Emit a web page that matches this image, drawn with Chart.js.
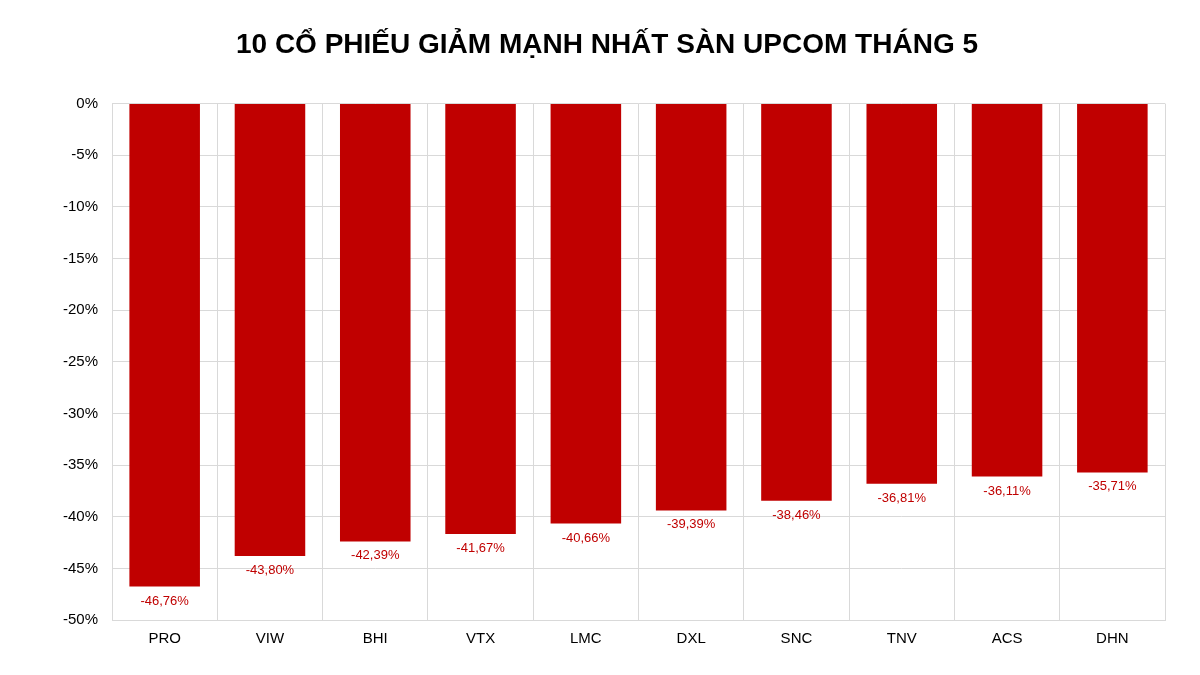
<!DOCTYPE html>
<html><head><meta charset="utf-8">
<script src="https://cdn.jsdelivr.net/npm/chart.js@4"></script>
<style>html,body{margin:0;background:#fff}#w{width:1200px;height:675px}</style>
</head><body><div id="w"><canvas id="c"></canvas></div>
<script>
const categories=["PRO","VIW","BHI","VTX","LMC","DXL","SNC","TNV","ACS","DHN"];
const values=[-46.76,-43.80,-42.39,-41.67,-40.66,-39.39,-38.46,-36.81,-36.11,-35.71];
const titleText="10 CỔ PHIẾU GIẢM MẠNH NHẤT SÀN UPCOM THÁNG 5";
const fmt=v=>v.toFixed(2).replace('.',',')+'%';
const labelPlugin={id:'lbl',afterDatasetsDraw(ch){const ctx=ch.ctx;const m=ch.getDatasetMeta(0);
ctx.save();ctx.fillStyle='#c00000';ctx.font='13px "Liberation Sans", Arial';ctx.textAlign='center';ctx.textBaseline='top';
m.data.forEach((b,i)=>ctx.fillText(fmt(values[i]),b.x,b.y+8));ctx.restore();}};
new Chart(document.getElementById('c'),{type:'bar',
data:{labels:categories,datasets:[{data:values,backgroundColor:'#c00000',barPercentage:0.67,categoryPercentage:1}]},
options:{responsive:true,maintainAspectRatio:false,animation:false,
layout:{padding:{left:49,right:35,top:10,bottom:17}},
plugins:{legend:{display:false},tooltip:{enabled:false},
title:{display:true,text:titleText,color:'#000',font:{family:'"Liberation Sans", Arial',size:28,weight:'bold'},padding:{top:18,bottom:42}}},
scales:{x:{grid:{color:'#d9d9d9',offset:true,drawTicks:false},border:{color:'#d9d9d9'},ticks:{color:'#000',padding:10,font:{family:'"Liberation Sans", Arial',size:15}}},
y:{min:-50,max:0,grid:{color:'#d9d9d9',drawTicks:false},border:{display:false},
ticks:{stepSize:5,color:'#000',padding:14,font:{family:'"Liberation Sans", Arial',size:15},callback:v=>v+'%'}}}},
plugins:[labelPlugin]});
</script></body></html>
